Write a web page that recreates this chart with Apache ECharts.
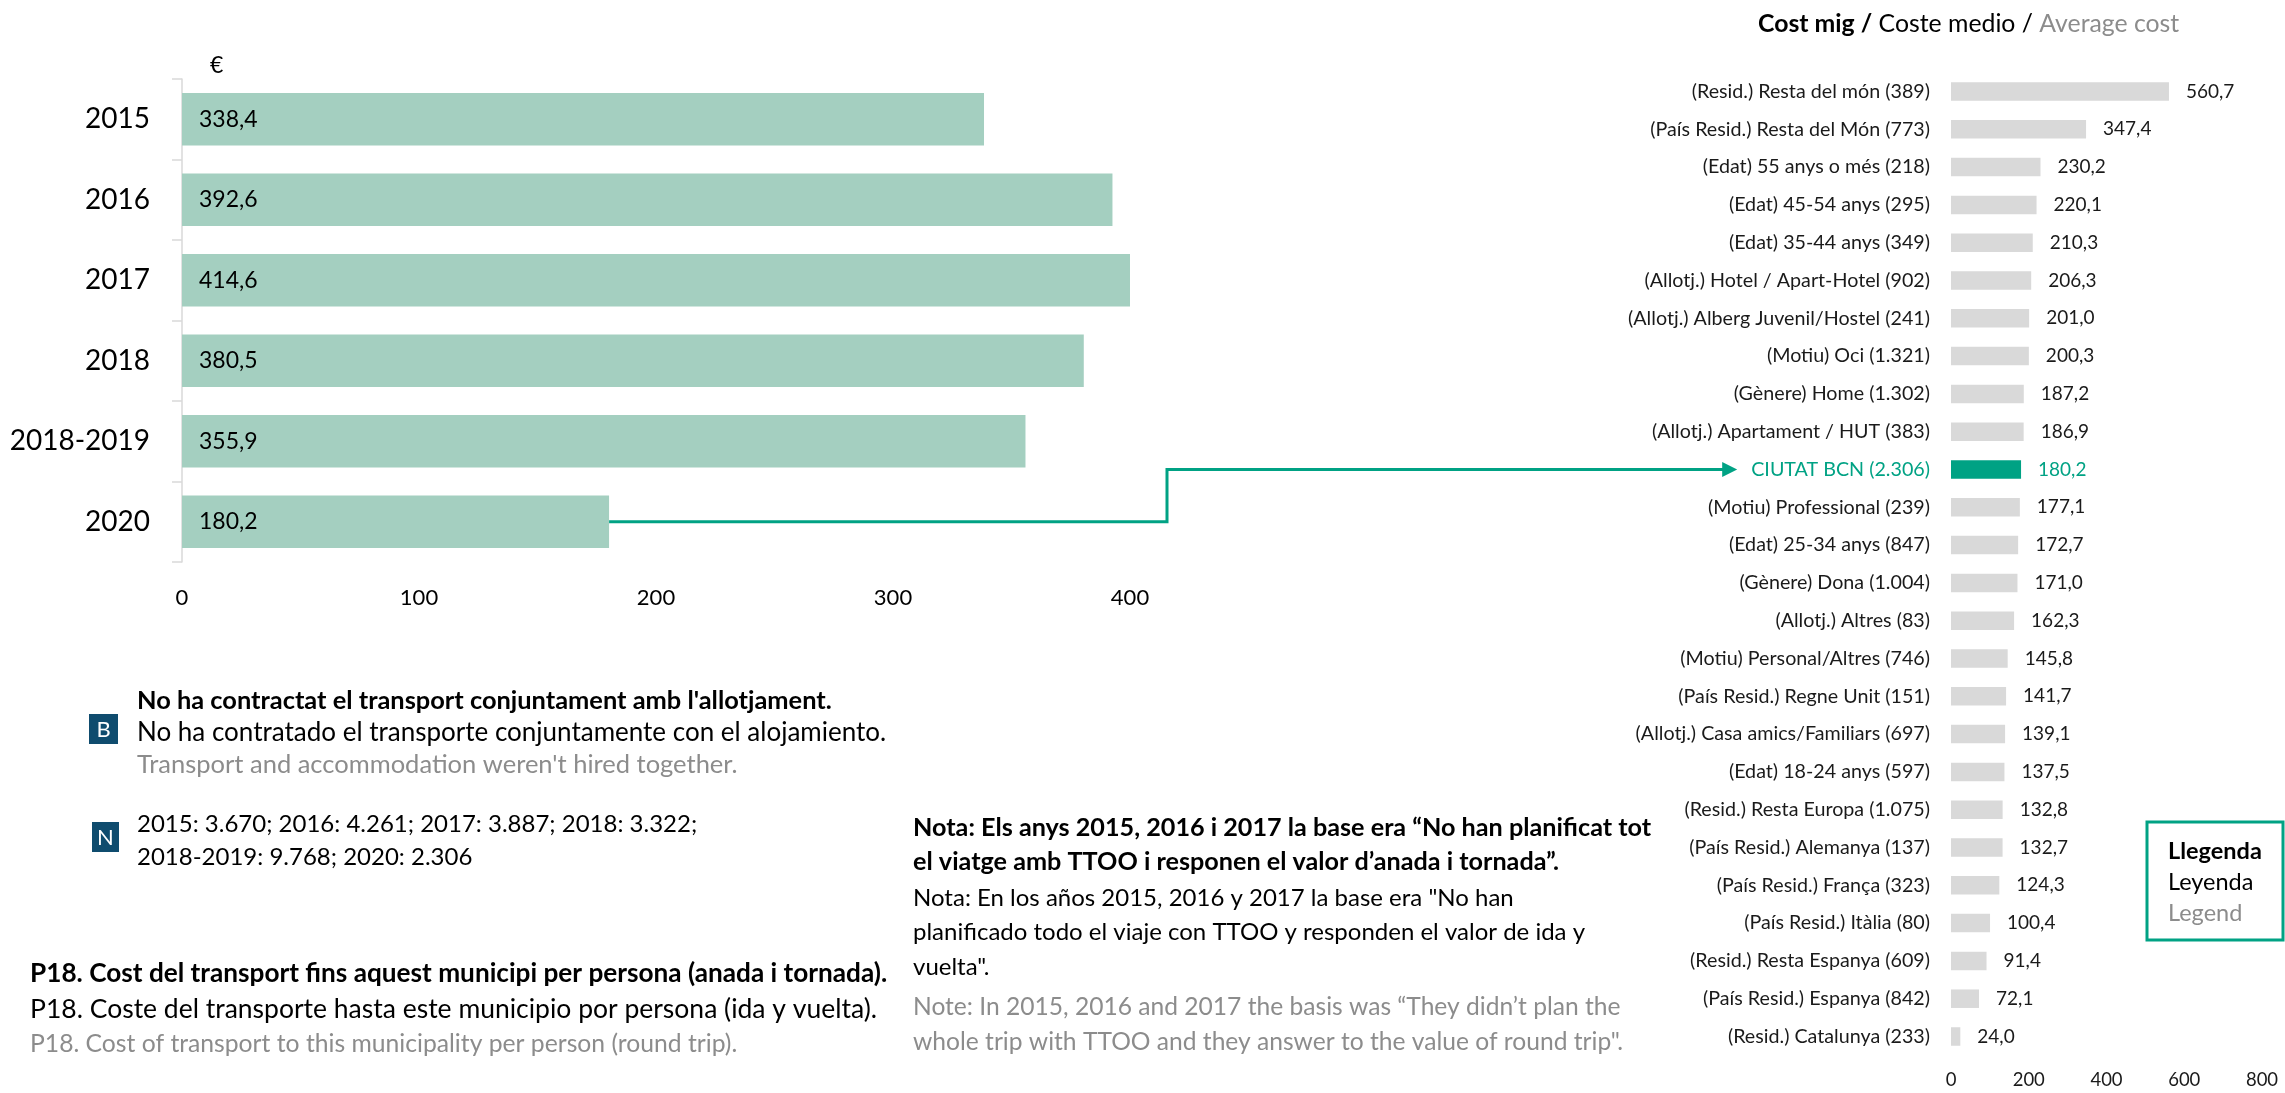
<!DOCTYPE html>
<html>
<head>
<meta charset="utf-8">
<script src="https://cdn.jsdelivr.net/npm/echarts@6/dist/echarts.min.js"></script>
<style>
html,body{margin:0;padding:0;background:#fff;}
#chart{width:2285px;height:1093px;}
</style>
</head>
<body>
<div id="chart"></div>
<script>
// ---- Data ----
var yearCategories = ['2015', '2016', '2017', '2018', '2018-2019', '2020'];
var yearValues = [338.4, 392.6, 414.6, 380.5, 355.9, 180.2];

var segmentCategories = [
  '(Resid.) Resta del món (389)',
  '(País Resid.) Resta del Món (773)',
  '(Edat) 55 anys o més (218)',
  '(Edat) 45-54 anys (295)',
  '(Edat) 35-44 anys (349)',
  '(Allotj.) Hotel / Apart-Hotel (902)',
  '(Allotj.) Alberg Juvenil/Hostel (241)',
  '(Motiu) Oci (1.321)',
  '(Gènere) Home (1.302)',
  '(Allotj.) Apartament / HUT (383)',
  'CIUTAT BCN (2.306)',
  '(Motiu) Professional (239)',
  '(Edat) 25-34 anys (847)',
  '(Gènere) Dona (1.004)',
  '(Allotj.) Altres (83)',
  '(Motiu) Personal/Altres (746)',
  '(País Resid.) Regne Unit (151)',
  '(Allotj.) Casa amics/Familiars (697)',
  '(Edat) 18-24 anys (597)',
  '(Resid.) Resta Europa (1.075)',
  '(País Resid.) Alemanya (137)',
  '(País Resid.) França (323)',
  '(País Resid.) Itàlia (80)',
  '(Resid.) Resta Espanya (609)',
  '(País Resid.) Espanya (842)',
  '(Resid.) Catalunya (233)'
];
var segmentValues = [560.7, 347.4, 230.2, 220.1, 210.3, 206.3, 201.0, 200.3, 187.2, 186.9,
  180.2, 177.1, 172.7, 171.0, 162.3, 145.8, 141.7, 139.1, 137.5, 132.8, 132.7, 124.3,
  100.4, 91.4, 72.1, 24.0];
var highlightCategory = 'CIUTAT BCN (2.306)';

var leftAxisMin = 0, leftAxisMax = 400, leftAxisStep = 100;
var rightAxisMin = 0, rightAxisMax = 800, rightAxisStep = 200;

var titleParts = ['Cost mig /', 'Coste medio /', 'Average cost'];
var legendLines = ['Llegenda', 'Leyenda', 'Legend'];
var baseLines = ["No ha contractat el transport conjuntament amb l'allotjament.",
  'No ha contratado el transporte conjuntamente con el alojamiento.',
  "Transport and accommodation weren't hired together."];
var nLines = ['2015: 3.670; 2016: 4.261; 2017: 3.887; 2018: 3.322;',
  '2018-2019: 9.768; 2020: 2.306'];
var questionLines = ['P18. Cost del transport fins aquest municipi per persona (anada i tornada).',
  'P18. Coste del transporte hasta este municipio por persona (ida y vuelta).',
  'P18. Cost of transport to this municipality per person (round trip).'];
var noteLines = ['Nota: Els anys 2015, 2016 i 2017 la base era “No han planificat tot',
  'el viatge amb TTOO i responen el valor d’anada i tornada”.',
  'Nota: En los años 2015, 2016 y 2017 la base era "No han',
  'planificado todo el viaje con TTOO y responden el valor de ida y',
  'vuelta".',
  'Note: In 2015, 2016 and 2017 the basis was “They didn’t plan the',
  'whole trip with TTOO and they answer to the value of round trip".'];

// ---- Styles ----
var FONT = 'Lato, "Open Sans", sans-serif';
var TEAL = '#00A284';
var GREEN = '#A4CFC0';
var GREYBAR = '#D9D9D9';
var GREYTXT = '#8C8C8C';
var NAVY = '#0F4C6E';
var CAT_FONT = 19.7;
var TITLE_FONT = 24.8;
function fmt(v) { return v.toFixed(1).replace('.', ','); }

var chart = echarts.init(document.getElementById('chart'), null, {renderer: 'canvas'});

var rightData = segmentValues.map(function (v, i) {
  var hl = segmentCategories[i] === highlightCategory;
  return {
    value: v,
    itemStyle: {color: hl ? TEAL : GREYBAR},
    label: {color: hl ? TEAL : '#1a1a1a'}
  };
});
var rightCatData = segmentCategories.map(function (c) {
  return {value: c, textStyle: {color: c === highlightCategory ? TEAL : '#1a1a1a'}};
});

function textEl(id, x, y, text, size, weight, color, align) {
  return {
    type: 'text', id: id, x: x, y: y, silent: true,
    style: {text: text, fontFamily: FONT, fontSize: size, fontWeight: weight || 'normal',
      fill: color || '#000', align: align || 'left', verticalAlign: 'middle'}
  };
}

var graphics = [];
graphics.push(textEl('euro', 210, 66, '€', 23, 'normal', '#000'));
graphics.push({
  type: 'text', id: 'title', x: 1758, y: 24, silent: true,
  style: {
    text: '{b|' + titleParts[0] + '} {n|' + titleParts[1] + '} {g|' + titleParts[2] + '}',
    fontFamily: FONT, fontSize: TITLE_FONT, verticalAlign: 'middle',
    rich: {
      b: {fontFamily: FONT, fontSize: TITLE_FONT, fontWeight: 'bold', fill: '#000'},
      n: {fontFamily: FONT, fontSize: TITLE_FONT, fill: '#000'},
      g: {fontFamily: FONT, fontSize: TITLE_FONT, fill: GREYTXT}
    }
  }
});
// Legend box
graphics.push({type: 'rect', id: 'legbox', shape: {x: 2147, y: 822, width: 136, height: 118},
  style: {fill: '#fff', stroke: TEAL, lineWidth: 3}, silent: true});
graphics.push(textEl('leg0', 2168, 851, legendLines[0], 23.5, 'bold', '#000'));
graphics.push(textEl('leg1', 2168, 882, legendLines[1], 23.5, 'normal', '#000'));
graphics.push(textEl('leg2', 2168, 913, legendLines[2], 23.5, 'normal', GREYTXT));
// B / N boxes
graphics.push({type: 'rect', id: 'bbox', shape: {x: 89, y: 714, width: 29, height: 30},
  style: {fill: NAVY}, silent: true});
graphics.push(textEl('btxt', 103.5, 729.5, 'B', 22, 'normal', '#fff', 'center'));
graphics.push({type: 'rect', id: 'nbox', shape: {x: 92, y: 822, width: 27, height: 30},
  style: {fill: NAVY}, silent: true});
graphics.push(textEl('ntxt', 105.5, 837.5, 'N', 22, 'normal', '#fff', 'center'));
graphics.push(textEl('base0', 137, 701, baseLines[0], 25.4, 'bold', '#000'));
graphics.push(textEl('base1', 137, 733, baseLines[1], 26, 'normal', '#000'));
graphics.push(textEl('base2', 137, 765, baseLines[2], 25.5, 'normal', GREYTXT));
graphics.push(textEl('n0', 137, 824, nLines[0], 24, 'normal', '#000'));
graphics.push(textEl('n1', 137, 857, nLines[1], 24, 'normal', '#000'));
graphics.push(textEl('q0', 30, 974, questionLines[0], 26.2, 'bold', '#000'));
graphics.push(textEl('q1', 30, 1009, questionLines[1], 26.5, 'normal', '#000'));
graphics.push(textEl('q2', 30, 1044, questionLines[2], 24.7, 'normal', GREYTXT));
var noteY = [828, 862, 898, 932, 967, 1007, 1042];
var noteW = ['bold', 'bold', 'normal', 'normal', 'normal', 'normal', 'normal'];
var noteS = [25.2, 25.2, 24, 24, 24, 24.6, 24.6];
var noteC = ['#000', '#000', '#000', '#000', '#000', GREYTXT, GREYTXT];
noteLines.forEach(function (t, i) {
  graphics.push(textEl('note' + i, 913, noteY[i], t, noteS[i], noteW[i], noteC[i]));
});

var option = {
  animation: false,
  backgroundColor: '#fff',
  textStyle: {fontFamily: FONT},
  grid: [
    {left: 182, width: 948, top: 79, height: 483},
    {left: 1951, width: 311, top: 72.6, height: 982.8}
  ],
  xAxis: [
    {type: 'value', gridIndex: 0, min: leftAxisMin, max: leftAxisMax, interval: leftAxisStep,
      axisLine: {show: false}, axisTick: {show: false}, splitLine: {show: false},
      axisLabel: {fontFamily: FONT, fontSize: 22, color: '#000', margin: 25}},
    {type: 'value', gridIndex: 1, min: rightAxisMin, max: rightAxisMax, interval: rightAxisStep,
      axisLine: {show: false}, axisTick: {show: false}, splitLine: {show: false},
      axisLabel: {fontFamily: FONT, fontSize: 18.5, color: '#1a1a1a', margin: 15}}
  ],
  yAxis: [
    {type: 'category', gridIndex: 0, data: yearCategories, inverse: true,
      axisLine: {show: true, lineStyle: {color: GREYBAR, width: 1.5}},
      axisTick: {show: true, length: 10, lineStyle: {color: GREYBAR, width: 1.5}},
      axisLabel: {fontFamily: FONT, fontSize: 28, color: '#000', margin: 32}},
    {type: 'category', gridIndex: 1, data: rightCatData, inverse: true,
      axisLine: {show: false}, axisTick: {show: false},
      axisLabel: {fontFamily: FONT, fontSize: CAT_FONT, color: '#1a1a1a', margin: 21}}
  ],
  series: [
    {type: 'bar', xAxisIndex: 0, yAxisIndex: 0, data: yearValues, barCategoryGap: '35%',
      clip: true, itemStyle: {color: GREEN},
      label: {show: true, position: 'insideLeft', distance: 17, fontFamily: FONT, fontSize: 23,
        color: '#000', formatter: function (p) { return fmt(p.value); }}},
    {type: 'bar', xAxisIndex: 1, yAxisIndex: 1, data: rightData, barCategoryGap: '51%',
      label: {show: true, position: 'right', distance: 17, fontFamily: FONT, fontSize: 19,
        formatter: function (p) { return fmt(p.value); }}}
  ],
  graphic: {elements: graphics}
};
chart.setOption(option);

// ---- Connector from the 2020 bar to the highlighted category ----
var last = yearCategories.length - 1;
var p0 = chart.convertToPixel({gridIndex: 0}, [yearValues[last], yearCategories[last]]);
var p1 = chart.convertToPixel({gridIndex: 1}, [0, highlightCategory]);
var ctx = document.createElement('canvas').getContext('2d');
ctx.font = CAT_FONT + 'px ' + FONT;
var labelW = ctx.measureText(highlightCategory).width;
var tipX = p1[0] - 21 - labelW - 14;
var elbowX = 1167;
chart.setOption({
  graphic: {elements: [
    {type: 'polyline', id: 'conn', silent: true,
      shape: {points: [[p0[0], p0[1]], [elbowX, p0[1]], [elbowX, p1[1]], [tipX - 14, p1[1]]]},
      style: {stroke: TEAL, lineWidth: 3, fill: null}},
    {type: 'polygon', id: 'arrow', silent: true,
      shape: {points: [[tipX, p1[1]], [tipX - 15, p1[1] - 7.5], [tipX - 15, p1[1] + 7.5]]},
      style: {fill: TEAL}}
  ]}
});
</script>
</body>
</html>
